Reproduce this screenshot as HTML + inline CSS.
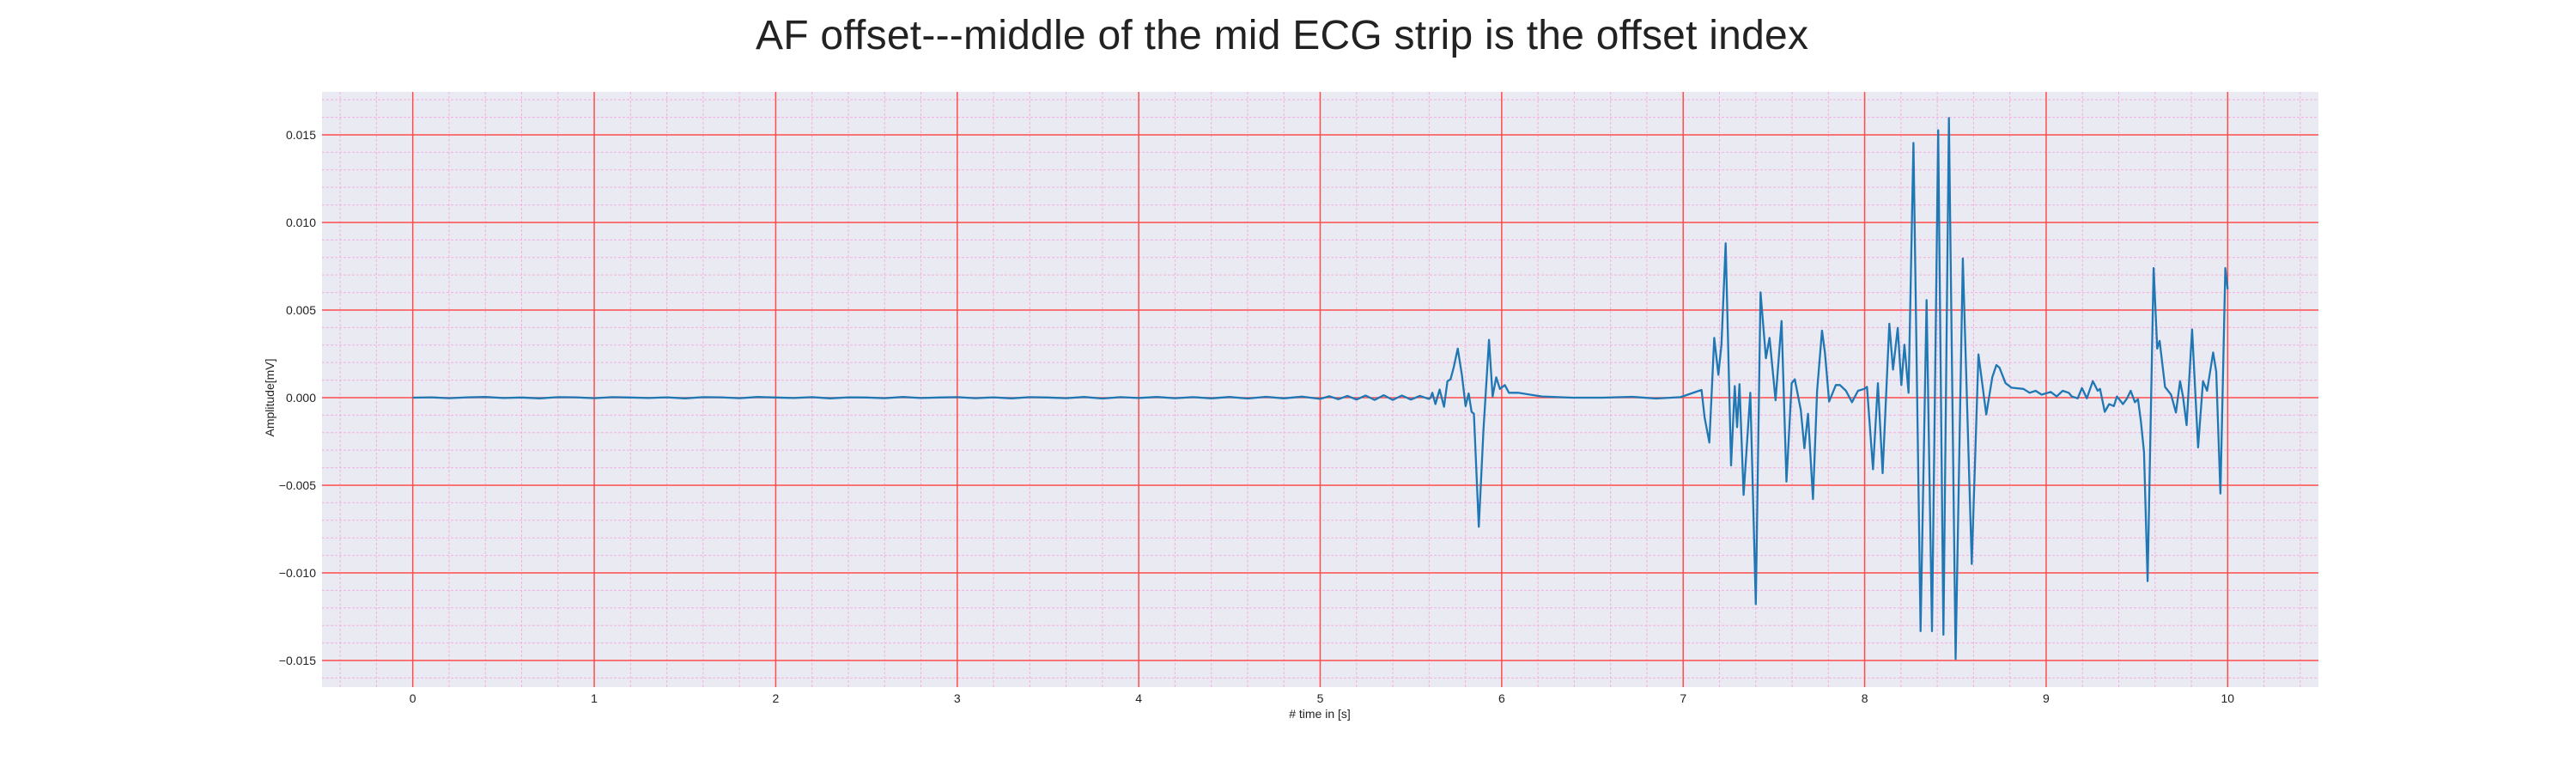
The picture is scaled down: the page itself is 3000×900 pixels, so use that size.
<!DOCTYPE html>
<html><head><meta charset="utf-8"><style>
html,body{margin:0;padding:0;background:#fff;}
svg{display:block;font-family:"Liberation Sans",sans-serif;}
</style></head><body>
<svg id="chart" width="3000" height="900" xmlns="http://www.w3.org/2000/svg">
<text x="1493" y="57" text-anchor="middle" font-size="48" fill="#222" textLength="1226">AF offset---middle of the mid ECG strip is the offset index</text>
<rect x="375" y="107" width="2325" height="693" fill="#eaeaf2"/>
<g id="grid"></g>
<g id="ticks"></g>
<path id="ecg" fill="none" stroke="#1f77b4" stroke-width="2.3" stroke-linejoin="round"/>
<text x="1537" y="836" text-anchor="middle" font-size="14" fill="#222"># time in [s]</text>
<text transform="translate(319,463) rotate(-90)" text-anchor="middle" font-size="14" fill="#222">Amplitude[mV]</text>
</svg>
<script>
const xTicks = [0,1,2,3,4,5,6,7,8,9,10];
const yTicks = [0.015,0.010,0.005,0.000,-0.005,-0.010,-0.015];
const yTickLabels = ["0.015","0.010","0.005","0.000","\u22120.005","\u22120.010","\u22120.015"];
const times = [0,0.1,0.2,0.3,0.4,0.5,0.6,0.7,0.8,0.9,1.0,1.1,1.2,1.3,1.4,1.5,1.6,1.7,1.8,1.9,2.0,2.1,2.2,2.3,2.4,2.5,2.6,2.7,2.8,2.9,3.0,3.1,3.2,3.3,3.4,3.5,3.6,3.7,3.8,3.9,4.0,4.1,4.2,4.3,4.4,4.5,4.6,4.7,4.8,4.9,5.0,5.05,5.1,5.15,5.2,5.25,5.3,5.35,5.4,5.45,5.5,5.55,5.6,
5.608,5.618,5.635,5.658,5.682,5.701,5.718,5.735,5.758,5.781,5.801,5.818,5.834,5.847,5.874,5.900,5.930,5.950,5.970,5.990,6.017,6.040,6.090,6.222,6.388,6.554,6.720,6.852,6.985,
7.101,7.118,7.144,7.171,7.194,7.211,7.234,7.264,7.284,7.297,7.310,7.333,7.370,7.400,7.426,7.456,7.476,7.509,7.542,7.569,7.598,7.615,7.648,7.668,7.688,7.715,7.738,7.765,7.781,7.804,7.841,7.864,7.897,7.930,7.963,7.997,
8.013,8.046,8.073,8.099,8.136,8.156,8.182,8.202,8.219,8.242,8.269,8.308,8.341,8.371,8.405,8.434,8.464,8.501,8.541,8.590,8.627,8.670,8.703,8.726,8.743,8.776,8.809,8.875,8.909,8.942,8.975,
9.025,9.058,9.091,9.124,9.141,9.174,9.197,9.224,9.257,9.284,9.297,9.323,9.347,9.373,9.390,9.423,9.446,9.466,9.489,9.506,9.522,9.539,9.559,9.592,9.612,9.625,9.655,9.688,9.715,9.738,9.754,9.774,9.804,9.837,9.864,9.887,9.920,9.937,9.960,9.987,10.0];
const amplitudes = [0,0.00002,-0.00003,0.00002,0.00004,-0.00002,0.00001,-0.00004,0.00003,0.00002,-0.00003,0.00003,0.00001,-0.00002,0.00002,-0.00004,0.00003,0.00002,-0.00003,0.00004,0.00001,-0.00002,0.00003,-0.00004,0.00002,0.00001,-0.00003,0.00004,-0.00002,0.00001,0.00003,-0.00003,0.00002,-0.00004,0.00003,0.00001,-0.00003,0.00004,-0.00005,0.00003,-0.00002,0.00004,-0.00003,0.00003,-0.00004,0.00004,-0.00005,0.00005,-0.00004,0.00006,-0.00007,0.00008,-0.00009,0.00010,-0.00011,0.00012,-0.00013,0.00014,-0.00013,0.00012,-0.00011,0.00010,-0.00008,
0,0.00028,-0.00037,0.00046,-0.00052,0.00094,0.00105,0.00171,0.00280,0.00127,-0.00048,0.00024,-0.00081,-0.00092,-0.00737,-0.00179,0.00330,0.00007,0.00116,0.00050,0.00072,0.00028,0.00028,0.00007,0,0,0.00005,-0.00005,0.00003,
0.00044,-0.00114,-0.00256,0.00341,0.00131,0.00302,0.00881,-0.00387,0.00066,-0.00168,0.00077,-0.00555,0.00028,-0.01178,0.00601,0.00225,0.00341,-0.00015,0.00437,-0.00479,0.00083,0.00105,-0.00070,-0.00289,-0.00092,-0.00579,0.00039,0.00383,0.00258,-0.00022,0.00072,0.00072,0.00039,-0.00026,0.00039,0.00050,
0.00061,-0.00409,0.00083,-0.00431,0.00422,0.00160,0.00398,0.00072,0.00302,0.00028,0.01454,-0.01333,0.00557,-0.01333,0.01526,-0.01353,0.01596,-0.01491,0.00794,-0.00949,0.00247,-0.00096,0.00116,0.00186,0.00171,0.00083,0.00057,0.00050,0.00028,0.00039,0.00017,
0.00033,0.00007,0.00039,0.00028,0.00007,-0.00004,0.00055,-0.00004,0.00094,0.00039,0.00050,-0.00081,-0.00037,-0.00048,0.00007,-0.00037,-0.00004,0.00039,-0.00026,-0.00009,-0.00136,-0.00310,-0.01047,0.00739,0.00280,0.00324,0.00061,0.00017,-0.00085,0.00094,0.00007,-0.00157,0.00389,-0.00284,0.00094,0.00039,0.00258,0.00149,-0.00547,0.00739,0.00619];

const X0=375,X1=2700,Y0=107,Y1=800, xMin=-0.5,xMax=10.5, yMin=-0.01652,yMax=0.01745;
const sx=t=>X0+(t-xMin)/(xMax-xMin)*(X1-X0);
const sy=v=>Y1-(v-yMin)/(yMax-yMin)*(Y1-Y0);
const NS="http://www.w3.org/2000/svg";
const grid=document.getElementById('grid'), ticks=document.getElementById('ticks');
function ln(x1,y1,x2,y2,c,w,d){const l=document.createElementNS(NS,'line');l.setAttribute('x1',x1);l.setAttribute('y1',y1);l.setAttribute('x2',x2);l.setAttribute('y2',y2);l.setAttribute('stroke',c);l.setAttribute('stroke-width',w);if(d)l.setAttribute('stroke-dasharray',d);grid.appendChild(l);return l;}
for(let i=-2;i<=52;i++){const t=i*0.2;if(t<xMin||t>xMax||i%5===0)continue;
 const l=ln(sx(t),Y0,sx(t),Y1,'#f4b0e0',1,'3,2');
 
 }
for(let i=-16;i<=17;i++){const v=i*0.001;if(v<yMin||v>yMax||i%5===0)continue;
 const l=ln(X0,sy(v),X1,sy(v),'#f4b0e0',1,'3,2');
 
 }
xTicks.forEach(t=>{const l=ln(sx(t),Y0,sx(t),Y1,'#ff4d4d',1.5);
 
 
 const tx=document.createElementNS(NS,'text');tx.setAttribute('x',sx(t));tx.setAttribute('y',818);tx.setAttribute('text-anchor','middle');tx.setAttribute('font-size','14');tx.setAttribute('fill','#222');tx.textContent=t;
 
 
 ticks.appendChild(tx);});
yTicks.forEach((v,i)=>{const l=ln(X0,sy(v),X1,sy(v),'#ff4d4d',1.5);
 
 
 const tx=document.createElementNS(NS,'text');tx.setAttribute('x',368);tx.setAttribute('y',sy(v)+5);tx.setAttribute('text-anchor','end');tx.setAttribute('font-size','14');tx.setAttribute('fill','#222');tx.textContent=yTickLabels[i];
 
 
 ticks.appendChild(tx);});
let d='';times.forEach((t,i)=>{d+=(i?'L':'M')+sx(t).toFixed(1)+','+sy(amplitudes[i]).toFixed(1);});
document.getElementById('ecg').setAttribute('d',d);
</script>
</body></html>
